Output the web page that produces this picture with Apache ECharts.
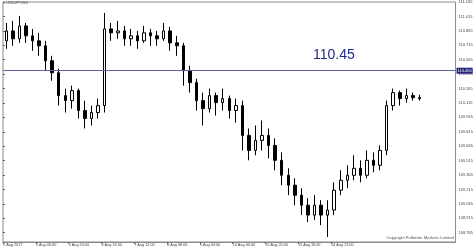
<!DOCTYPE html>
<html><head><meta charset="utf-8">
<script src="https://cdn.jsdelivr.net/npm/echarts@6/dist/echarts.min.js"></script>
<style>html,body{margin:0;padding:0;background:#fff}#c{width:476px;height:248px}</style>
</head><body><div id="c"></div>
<script>
const categories = [
"2 Aug 04:00","2 Aug 08:00","2 Aug 12:00","2 Aug 16:00","2 Aug 20:00",
"3 Aug 00:00","3 Aug 04:00","3 Aug 08:00","3 Aug 12:00","3 Aug 16:00","3 Aug 20:00",
"4 Aug 00:00","4 Aug 04:00","4 Aug 08:00","4 Aug 12:00","4 Aug 16:00","4 Aug 20:00",
"7 Aug 00:00","7 Aug 04:00","7 Aug 08:00","7 Aug 12:00","7 Aug 16:00","7 Aug 20:00",
"8 Aug 00:00","8 Aug 04:00","8 Aug 08:00","8 Aug 12:00","8 Aug 16:00","8 Aug 20:00",
"9 Aug 00:00","9 Aug 04:00","9 Aug 08:00","9 Aug 12:00","9 Aug 16:00","9 Aug 20:00",
"10 Aug 00:00","10 Aug 04:00","10 Aug 08:00","10 Aug 12:00","10 Aug 16:00","10 Aug 20:00",
"11 Aug 00:00","11 Aug 04:00","11 Aug 08:00","11 Aug 12:00","11 Aug 16:00","11 Aug 20:00",
"14 Aug 00:00","14 Aug 04:00","14 Aug 08:00","14 Aug 12:00","14 Aug 16:00","14 Aug 20:00",
"15 Aug 00:00","15 Aug 04:00","15 Aug 08:00","15 Aug 12:00","15 Aug 16:00","15 Aug 20:00",
"16 Aug 00:00","16 Aug 04:00","16 Aug 08:00","16 Aug 12:00","16 Aug 16:00"];

const openP = [110.761,110.864,110.782,110.916,110.813,110.761,110.709,110.554,110.429,110.191,
110.139,110.243,110.036,109.953,110.015,110.087,110.885,110.844,110.864,110.782,
110.813,110.761,110.844,110.813,110.782,110.864,110.740,110.709,110.450,110.326,
110.139,110.056,110.191,110.118,110.160,110.036,110.087,109.777,109.621,109.725,
109.777,109.673,109.518,109.362,109.259,109.155,109.051,108.948,109.051,108.948,
109.000,109.207,109.310,109.362,109.435,109.362,109.518,109.466,109.621,110.087,
110.222,110.160,110.191,110.170];
const closeP = [110.864,110.782,110.916,110.813,110.761,110.709,110.554,110.429,110.191,110.139,
110.243,110.036,109.953,110.015,110.087,110.885,110.844,110.864,110.782,110.813,
110.761,110.844,110.813,110.782,110.864,110.740,110.709,110.450,110.326,110.139,
110.056,110.191,110.118,110.160,110.036,110.087,109.777,109.621,109.725,109.777,
109.673,109.518,109.362,109.259,109.155,109.051,108.948,109.051,108.948,109.000,
109.207,109.310,109.362,109.435,109.362,109.518,109.466,109.621,110.087,110.222,
110.160,110.191,110.170,110.160];
const highP = [110.947,110.968,111.020,110.947,110.885,110.844,110.761,110.605,110.471,110.264,
110.295,110.264,110.139,110.087,110.160,111.051,110.947,110.968,110.916,110.885,
110.864,110.916,110.885,110.864,110.947,110.906,110.813,110.740,110.502,110.367,
110.222,110.264,110.222,110.264,110.191,110.160,110.139,109.849,109.880,109.932,
109.849,109.746,109.600,109.435,109.331,109.228,109.124,109.155,109.103,109.103,
109.289,109.414,109.466,109.570,109.518,109.621,109.600,109.673,110.139,110.264,
110.243,110.264,110.222,110.201];
const lowP = [110.678,110.709,110.740,110.740,110.657,110.605,110.450,110.346,110.087,110.015,
110.056,109.953,109.849,109.880,109.953,110.015,110.761,110.782,110.709,110.709,
110.678,110.740,110.709,110.709,110.761,110.657,110.605,110.295,110.222,110.036,
109.880,110.015,109.984,110.036,109.953,109.911,109.621,109.518,109.570,109.621,
109.538,109.414,109.259,109.155,109.051,108.948,108.875,108.896,108.844,108.720,
108.948,109.155,109.228,109.310,109.289,109.331,109.393,109.414,109.570,110.036,
110.087,110.118,110.139,110.139];

const xTickIndex = [0,5,10,15,20,25,30,35,40,45,50];
const xTickLabels = ["2 Aug 2017","3 Aug 00:00","3 Aug 20:00","4 Aug 16:00","7 Aug 12:00","8 Aug 08:00",
"9 Aug 04:00","10 Aug 00:00","10 Aug 20:00","11 Aug 16:00","14 Aug 12:00"];
const yTicks = [111.165,111.015,110.865,110.715,110.565,110.415,110.265,110.115,109.965,109.815,
109.665,109.515,109.365,109.215,109.065,108.915,108.765];
const levelPrice = 110.45;
const yMin = 108.668, yMax = 111.165;
const symbolTitle = "\u25BE USDJPY,H4";
const copyright = "Copyright Fullerton Markets Limited";

const padSlots = ["p1","p2","p3","p4","p5"];
const cats = categories.concat(padSlots);
const ohlc = categories.map((c, i) => [openP[i], closeP[i], lowP[i], highP[i]]);
const lastClose = closeP[closeP.length - 1];
const txt = '#444';
const fam = 'Liberation Sans, Arial, sans-serif';

const chart = echarts.init(document.getElementById('c'), null, {renderer: 'canvas'});
chart.setOption({
  animation: false,
  backgroundColor: '#ffffff',
  grid: {left: 1, right: 17, top: 1, bottom: 6, show: true, borderColor: '#8a8a8a', borderWidth: 1, containLabel: false},
  xAxis: [
    {type: 'category', data: cats, boundaryGap: true, show: false},
    {type: 'value', min: 0, max: cats.length, position: 'bottom',
     axisLine: {show: true, lineStyle: {color: '#8a8a8a', width: 1}},
     axisTick: {show: true, length: 2, customValues: xTickIndex, lineStyle: {color: '#666'}},
     axisLabel: {customValues: xTickIndex, fontSize: 3.8, color: txt, fontFamily: fam, margin: 1, align: 'left',
       formatter: v => xTickLabels[xTickIndex.indexOf(Math.round(v))] || ''},
     splitLine: {show: false}}
  ],
  yAxis: [{type: 'value', position: 'right', min: yMin, max: yMax, scale: true,
    axisLine: {show: false},
    axisTick: {show: true, length: 2, customValues: yTicks, lineStyle: {color: '#666'}},
    axisLabel: {customValues: yTicks, fontSize: 4, color: txt, fontFamily: fam, margin: 3,
      formatter: v => v.toFixed(3)},
    splitLine: {show: false}}],
  series: [{
    type: 'candlestick', xAxisIndex: 0, yAxisIndex: 0, data: ohlc, barWidth: 3,
    itemStyle: {color: '#ffffff', color0: '#000000', borderColor: '#000000', borderColor0: '#000000', borderWidth: 1},
    markLine: {
      silent: true, symbol: ['none', 'none'], animation: false,
      data: [
        {yAxis: levelPrice, lineStyle: {color: '#5f62a8', width: 1, type: 'solid'},
         label: {show: true, position: 'end', distance: 1, formatter: p => p.value.toFixed(3),
           color: '#fff', backgroundColor: '#24247a', fontSize: 4, fontFamily: fam, padding: [1, 1, 1, 1]}},
        {yAxis: lastClose, lineStyle: {opacity: 0},
         label: {show: true, position: 'end', distance: 1, formatter: p => p.value.toFixed(3),
           color: '#fff', backgroundColor: '#000', fontSize: 4, fontFamily: fam, padding: [1, 1, 1, 1]}}
      ]
    }
  }],
  graphic: [
    {type: 'text', left: 3, top: 1, style: {text: symbolTitle, fontSize: 4, fill: txt, fontFamily: fam}},
    {type: 'text', x: 313, y: 55, style: {text: levelPrice.toFixed(2), fontSize: 14, fill: '#1e2a8c', fontFamily: fam, textVerticalAlign: 'middle'}},
    {type: 'text', x: 454, y: 238, style: {text: copyright, fontSize: 4.3, fill: '#555', fontFamily: fam, textAlign: 'right', textVerticalAlign: 'middle'}}
  ]
});
</script></body></html>
